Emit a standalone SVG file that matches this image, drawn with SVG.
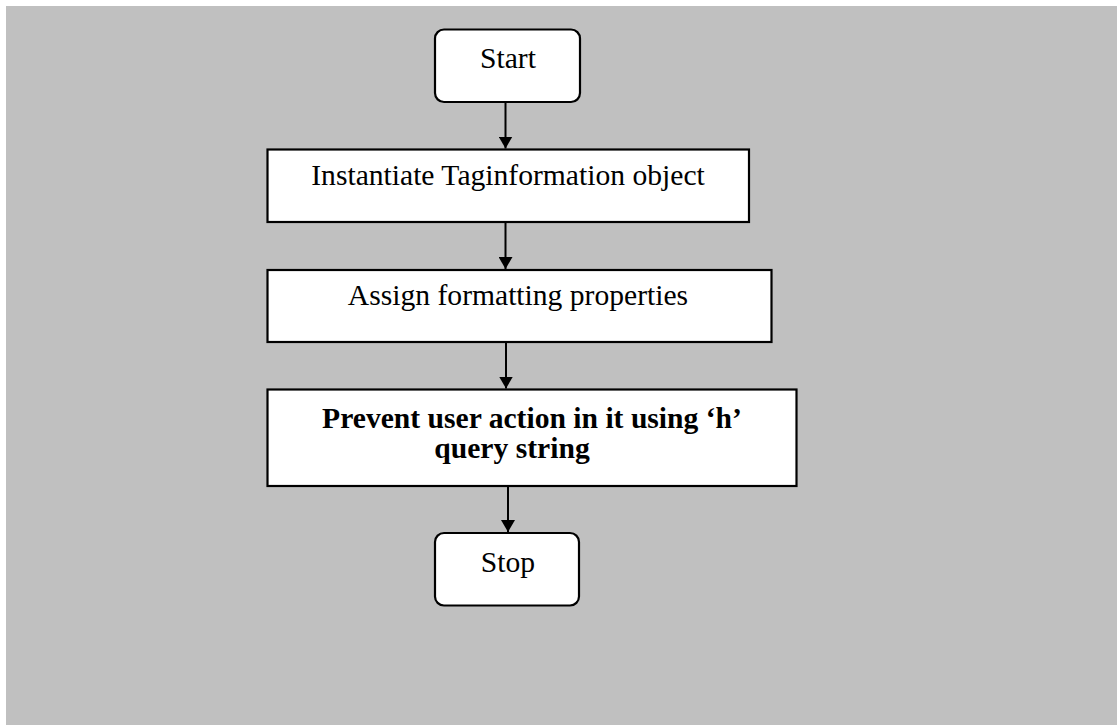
<svg xmlns="http://www.w3.org/2000/svg" width="1117" height="725" viewBox="0 0 1117 725">
<style>
.box{fill:#fff;stroke:#000;stroke-width:2.2}
.t{font-family:"Liberation Serif","Times New Roman",serif;font-size:29.6px;fill:#000;text-anchor:middle}
.b{font-weight:bold}
.c{stroke:#000;stroke-width:2;fill:none}
</style>
<defs>
<marker id="ah" markerWidth="12" markerHeight="14" refX="12" refY="7" orient="auto" markerUnits="userSpaceOnUse" viewBox="0 0 12 14">
<path d="M0,0 L12,7 L0,14 Z" fill="#000"/>
</marker>
</defs>
<rect x="0" y="0" width="1117" height="725" fill="#fff"/>
<rect x="6" y="6" width="1111" height="719" fill="#c0c0c0"/>
<g id="connectors">
<line class="c" x1="505.5" y1="103" x2="505.5" y2="148.5" marker-end="url(#ah)"/>
<line class="c" x1="505.5" y1="223" x2="505.5" y2="269" marker-end="url(#ah)"/>
<line class="c" x1="506" y1="343" x2="506" y2="388.5" marker-end="url(#ah)"/>
<line class="c" x1="508" y1="487" x2="508" y2="532" marker-end="url(#ah)"/>
</g>
<g id="start">
<rect class="box" x="435" y="29.5" width="145" height="72.5" rx="9"/>
<text class="t" x="508" y="68">Start</text>
</g>
<g id="instantiate">
<rect class="box" x="267.5" y="149.5" width="481.5" height="72.5"/>
<text class="t" x="508" y="185">Instantiate Taginformation object</text>
</g>
<g id="assign">
<rect class="box" x="267.5" y="270" width="504" height="72"/>
<text class="t" x="518" y="305">Assign formatting properties</text>
</g>
<g id="prevent">
<rect class="box" x="267.5" y="389.5" width="529" height="96.5"/>
<text class="t b" x="532" y="428">Prevent user action in it using ‘h’</text>
<text class="t b" x="512" y="458">query string</text>
</g>
<g id="stop">
<rect class="box" x="435" y="533" width="144" height="72.5" rx="9"/>
<text class="t" x="508" y="572">Stop</text>
</g>
</svg>
